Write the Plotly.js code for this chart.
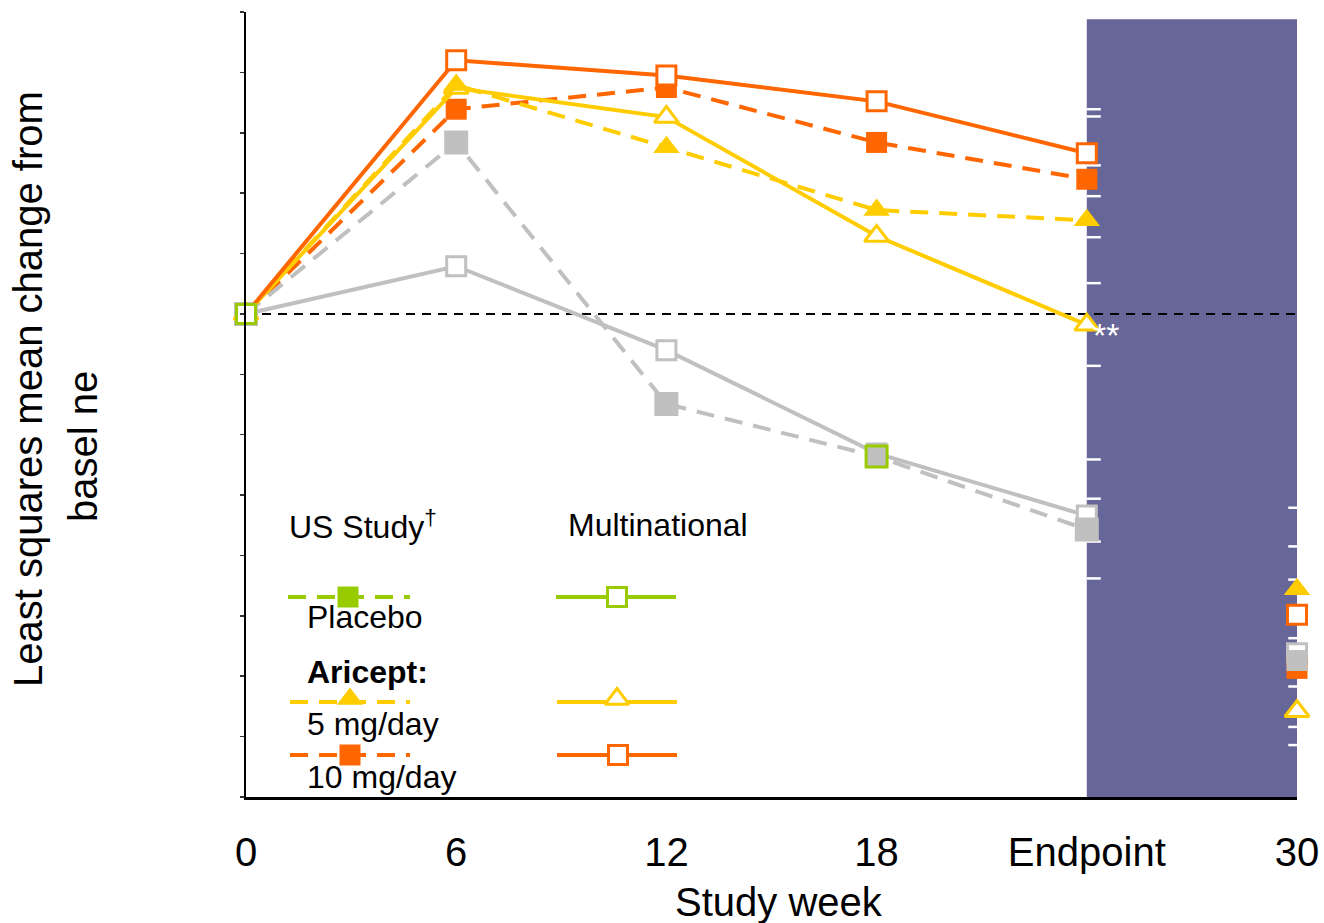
<!DOCTYPE html>
<html>
<head>
<meta charset="utf-8">
<script src="https://cdn.plot.ly/plotly-3.0.1.min.js"></script>
<style>
html,body{margin:0;padding:0;background:#fff;}
#chart{width:1324px;height:923px;}
</style>
</head>
<body>
<div id="chart"></div>
<script>
// ---------------- DATA ----------------
const weeks = [0, 6, 12, 18, 24];
const week30 = [30];
const tickVals = [0, 6, 12, 18, 24, 30];
const tickText = ['0', '6', '12', '18', 'Endpoint', '30'];

// US Study (dashed, filled markers)
const usPlacebo = [0, 2.84, -1.49, -2.36, -3.57];
const usFive    = [0, 3.79, 2.76, 1.72, 1.55];
const usTen     = [0, 3.39, 3.75, 2.84, 2.23];
// Multinational (solid, open markers)
const mnPlacebo = [0, 0.79, -0.60, -2.31, -3.34];
const mnFive    = [0, 3.74, 3.26, 1.29, -0.18];
const mnTen     = [0, 4.20, 3.95, 3.52, 2.66];

// Week 30 values
const usPlacebo30 = [-5.74];
const usFive30    = [-4.56];
const usTen30     = [-5.87];
const mnPlacebo30 = [-5.62];
const mnFive30    = [-6.58];
const mnTen30     = [-4.98];

// white cap ticks inside the shaded panel
const capsAtEndpoint = [3.39, 3.27, 2.46, 1.95, 1.27, 0.51, -0.86, -2.41, -3.06, -3.77, -4.38];
const capsAtWeek30   = [-3.21, -3.85, -4.40, -5.37, -6.17, -6.58, -6.84, -7.14];

const legendHeaders = ['US Study<sup>†</sup>', 'Multinational'];
const legendLabels = ['Placebo', '<b>Aricept:</b>', '5 mg/day', '10 mg/day'];

// ---------------- STYLE ----------------
const GRAY = '#c0c0c0', GREEN = '#99cc00', YELLOW = '#ffcc00', ORANGE = '#ff6600', PURPLE = '#666699';
const FONT = 'Liberation Sans, Arial, Helvetica, sans-serif';
const DASH = '18px,11px';

function series(y, y30, color, dash, symbol, filled, lineColors) {
  const tri = symbol.indexOf('triangle') === 0;
  const mk = filled
    ? {symbol: symbol, size: tri ? 23 : 21, color: color,
       line: {color: lineColors || color, width: lineColors ? 3 : 0}}
    : {symbol: symbol, size: tri ? 21 : 19, color: '#ffffff',
       line: {color: color, width: 3}};
  return [
    {x: weeks, y: y, mode: 'lines+markers', line: {color: color, width: 4, dash: dash},
     marker: mk, cliponaxis: false, showlegend: false, hoverinfo: 'skip'},
    {x: week30, y: y30, mode: 'markers', marker: Object.assign({}, mk, {line: {color: color, width: filled ? 0 : 3}}),
     cliponaxis: false, showlegend: false, hoverinfo: 'skip'}
  ];
}

const traces = [].concat(
  series(mnPlacebo, mnPlacebo30, GRAY, 'solid', 'square', false),
  series(usTen, usTen30, ORANGE, DASH, 'square', true),
  series(usPlacebo, usPlacebo30, GRAY, DASH, 'square', true, [GRAY, GRAY, GRAY, GREEN, GRAY]),
  series(mnFive, mnFive30, YELLOW, 'solid', 'triangle-up', false),
  series(usFive, usFive30, YELLOW, DASH, 'triangle-up', true),
  series(mnTen, mnTen30, ORANGE, 'solid', 'square', false)
);
// baseline point
traces.push({x: [weeks[0]], y: [mnPlacebo[0]], mode: 'markers',
  marker: {symbol: 'square', size: 19, color: '#ffffff', line: {color: GREEN, width: 3}},
  cliponaxis: false, showlegend: false, hoverinfo: 'skip'});

// ---------------- LEGEND (pixel overlay axes) ----------------
const legendItems = [
  {x0: 288, x1: 410, xm: 348, y: 597, color: GREEN, dash: DASH, symbol: 'square', filled: true},
  {x0: 556, x1: 676, xm: 617, y: 597, color: GREEN, dash: 'solid', symbol: 'square', filled: false},
  {x0: 290, x1: 410, xm: 350, y: 702, color: YELLOW, dash: DASH, symbol: 'triangle-up', filled: true},
  {x0: 557, x1: 677, xm: 617, y: 702, color: YELLOW, dash: 'solid', symbol: 'triangle-up', filled: false},
  {x0: 290, x1: 410, xm: 350, y: 755, color: ORANGE, dash: DASH, symbol: 'square', filled: true},
  {x0: 557, x1: 677, xm: 618, y: 755, color: ORANGE, dash: 'solid', symbol: 'square', filled: false}
];
legendItems.forEach(it => {
  traces.push({x: [it.x0, it.x1], y: [it.y, it.y], xaxis: 'x2', yaxis: 'y2', mode: 'lines',
    line: {color: it.color, width: 4, dash: it.dash}, showlegend: false, hoverinfo: 'skip', cliponaxis: false});
  const tri = it.symbol === 'triangle-up';
  traces.push({x: [it.xm], y: [tri ? it.y - 3 : it.y], xaxis: 'x2', yaxis: 'y2', mode: 'markers',
    marker: it.filled
      ? {symbol: it.symbol, size: tri ? 23 : 21, color: it.color, line: {width: 0}}
      : {symbol: it.symbol, size: tri ? 21 : 19, color: '#ffffff', line: {color: it.color, width: 3}},
    showlegend: false, hoverinfo: 'skip', cliponaxis: false});
});

const shapes = [
  {type: 'rect', xref: 'x', yref: 'y', x0: 24, x1: 30, y0: -8, y1: 4.88,
   fillcolor: PURPLE, line: {width: 0}, layer: 'below'},
  {type: 'line', xref: 'x', yref: 'y', x0: 0, x1: 30.1, y0: 0, y1: 0,
   line: {color: '#000', width: 2, dash: '9px,7px'}, layer: 'below'}
];
capsAtEndpoint.forEach(v => shapes.push({type: 'line', xref: 'x', yref: 'y', x0: 24, x1: 24.4, y0: v, y1: v,
  line: {color: '#fff', width: 2.5}, layer: 'below'}));
capsAtWeek30.forEach(v => shapes.push({type: 'line', xref: 'x', yref: 'y', x0: 29.75, x1: 30, y0: v, y1: v,
  line: {color: '#fff', width: 2.5}, layer: 'below'}));

const legFont = {family: FONT, size: 32, color: '#000'};
const annotations = [
  {xref: 'x2', yref: 'y2', x: 287, y: 525, xanchor: 'left', yanchor: 'middle', text: legendHeaders[0], showarrow: false, font: legFont},
  {xref: 'x2', yref: 'y2', x: 566, y: 525, xanchor: 'left', yanchor: 'middle', text: legendHeaders[1], showarrow: false, font: legFont},
  {xref: 'x2', yref: 'y2', x: 305, y: 617, xanchor: 'left', yanchor: 'middle', text: legendLabels[0], showarrow: false, font: legFont},
  {xref: 'x2', yref: 'y2', x: 305, y: 672, xanchor: 'left', yanchor: 'middle', text: legendLabels[1], showarrow: false, font: legFont},
  {xref: 'x2', yref: 'y2', x: 305, y: 724, xanchor: 'left', yanchor: 'middle', text: legendLabels[2], showarrow: false, font: legFont},
  {xref: 'x2', yref: 'y2', x: 305, y: 777, xanchor: 'left', yanchor: 'middle', text: legendLabels[3], showarrow: false, font: legFont},
  // significance marker
  {xref: 'x', yref: 'y', x: weeks[4], y: mnFive[4], xanchor: 'left', yanchor: 'middle', xshift: 4, yshift: -10,
   text: '**', showarrow: false, font: {family: FONT, size: 34, color: '#ffffff'}},
  // axis titles
  {xref: 'paper', yref: 'paper', x: (28 - 246) / 1051, y: (797 - 388) / 787, xanchor: 'center', yanchor: 'middle',
   textangle: -90, text: 'Least squares mean change from', showarrow: false, font: {family: FONT, size: 40, color: '#000'}},
  {xref: 'paper', yref: 'paper', x: (83 - 246) / 1051, y: (797 - 446) / 787, xanchor: 'center', yanchor: 'middle',
   textangle: -90, text: 'basel ne', showarrow: false, font: {family: FONT, size: 40, color: '#000'}},
  {xref: 'paper', yref: 'paper', x: (779 - 246) / 1051, y: (797 - 902) / 787, xanchor: 'center', yanchor: 'middle',
   text: 'Study week', showarrow: false, font: {family: FONT, size: 40, color: '#000'}}
];

const layout = {
  width: 1324, height: 923,
  margin: {l: 246, r: 27, t: 12, b: 126},
  paper_bgcolor: '#ffffff', plot_bgcolor: 'rgba(0,0,0,0)',
  font: {family: FONT, color: '#000'},
  showlegend: false,
  xaxis: {range: [0, 30], tickvals: tickVals, ticktext: tickText, ticks: '', showgrid: false, zeroline: false,
    showline: true, linecolor: '#000', linewidth: 2.5, ticklabelstandoff: 18,
    tickfont: {family: FONT, size: 40, color: '#000'}, fixedrange: true},
  yaxis: {range: [-8, 5], dtick: 1, tick0: 0, ticks: 'outside', ticklen: 4, tickwidth: 1.5, tickcolor: '#333',
    showticklabels: false, showgrid: false, zeroline: false, showline: true, linecolor: '#000', linewidth: 2, fixedrange: true},
  xaxis2: {range: [246, 1297], overlaying: 'x', visible: false, fixedrange: true},
  yaxis2: {range: [797, 12], overlaying: 'y', visible: false, fixedrange: true},
  shapes: shapes,
  annotations: annotations
};

Plotly.newPlot('chart', traces, layout, {displayModeBar: false, staticPlot: true});
</script>
</body>
</html>
